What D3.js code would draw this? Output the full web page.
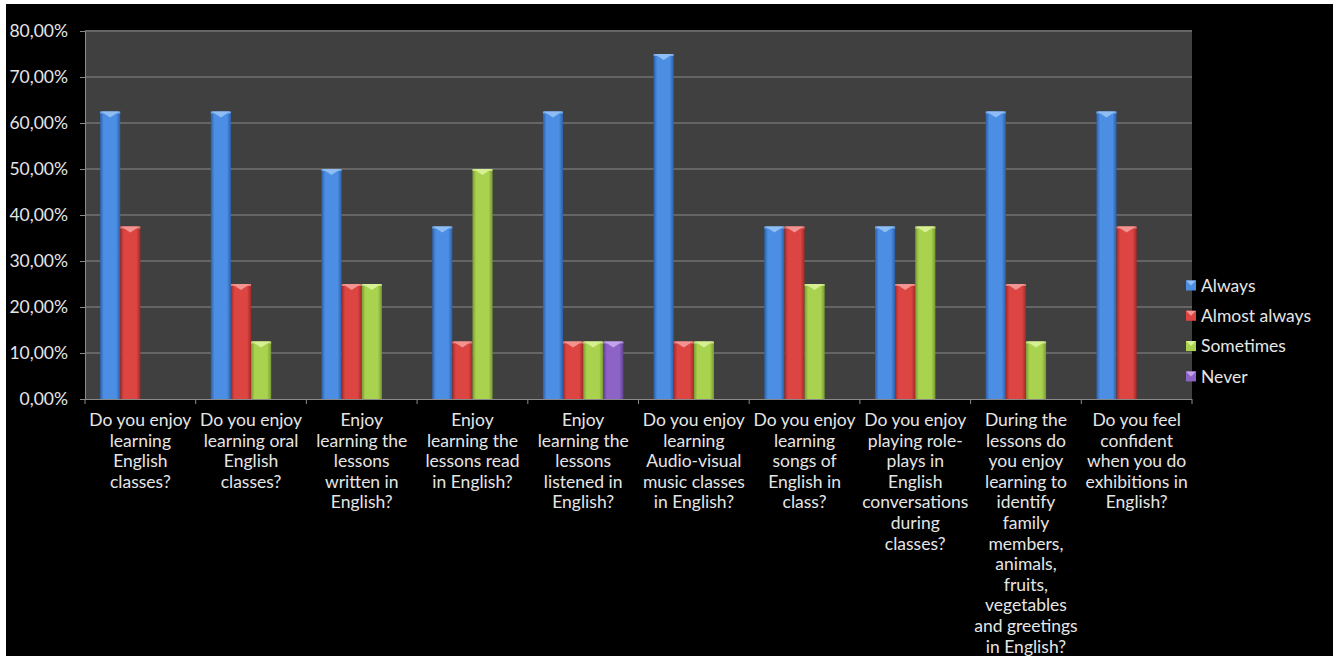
<!DOCTYPE html>
<html>
<head>
<meta charset="utf-8">
<script src="https://cdn.jsdelivr.net/npm/d3@7"></script>
<style>
  html, body { margin: 0; padding: 0; background: #fff; }
  svg { display: block; }
  text { font-family: Lato, 'Noto Sans', sans-serif; fill: #e6e6e6; }
</style>
</head>
<body>
<div id="chart"></div>
<script>
// categories (tick labels, already broken into lines like the original)
const categorias = [
  ['Do you enjoy', 'learning', 'English', 'classes?'],
  ['Do you enjoy', 'learning oral', 'English', 'classes?'],
  ['Enjoy', 'learning the', 'lessons', 'written in', 'English?'],
  ['Enjoy', 'learning the', 'lessons read', 'in English?'],
  ['Enjoy', 'learning the', 'lessons', 'listened in', 'English?'],
  ['Do you enjoy', 'learning', 'Audio-visual', 'music classes', 'in English?'],
  ['Do you enjoy', 'learning', 'songs of', 'English in', 'class?'],
  ['Do you enjoy', 'playing role-', 'plays in', 'English', 'conversations', 'during', 'classes?'],
  ['During the', 'lessons do', 'you enjoy', 'learning to', 'identify', 'family', 'members,', 'animals,', 'fruits,', 'vegetables', 'and greetings', 'in English?'],
  ['Do you feel', 'confident', 'when you do', 'exhibitions in', 'English?']
]

const series = ['Always', 'Almost always', 'Sometimes', 'Never']

// values in percent
const always       = [62.5, 62.5, 50, 37.5, 62.5, 75, 37.5, 37.5, 62.5, 62.5]
const almostAlways = [37.5, 25, 25, 12.5, 12.5, 12.5, 37.5, 25, 25, 37.5]
const sometimes    = [0, 12.5, 25, 50, 12.5, 12.5, 25, 37.5, 12.5, 0]
const never        = [0, 0, 0, 0, 12.5, 0, 0, 0, 0, 0]

const yTicks = [0, 10, 20, 30, 40, 50, 60, 70, 80]

const colores = [
  { edge: '#2c5fa6', mid: '#4b8ee3', top: '#8fbdf5' },
  { edge: '#a02a28', mid: '#dc4542', top: '#f29592' },
  { edge: '#779a33', mid: '#a9d24e', top: '#d6f093' },
  { edge: '#5f418f', mid: '#8d63c6', top: '#c3a4ec' }
]

const width = 1338
const height = 656
const plot = { left: 85, right: 1192, top: 31, bottom: 399 }
const fontSize = '17.5px'

const svg = d3.select('#chart')
  .append('svg')
  .attr('width', width)
  .attr('height', height)

// black chart area with thin white border like the screenshot
svg.append('rect')
  .attr('x', 6).attr('y', 4)
  .attr('width', 1327).attr('height', height - 4)
  .attr('fill', '#000')

const defs = svg.append('defs')
colores.forEach((c, i) => {
  const g = defs.append('linearGradient')
    .attr('id', 'grad' + i)
    .attr('x1', '0%').attr('x2', '100%')
    .attr('y1', '0%').attr('y2', '0%')
  g.append('stop').attr('offset', '0%').attr('stop-color', c.edge)
  g.append('stop').attr('offset', '18%').attr('stop-color', c.mid)
  g.append('stop').attr('offset', '80%').attr('stop-color', c.mid)
  g.append('stop').attr('offset', '100%').attr('stop-color', c.edge)
})

// plot background
svg.append('rect')
  .attr('x', plot.left).attr('y', plot.top - 1)
  .attr('width', plot.right - plot.left)
  .attr('height', plot.bottom - plot.top + 1)
  .attr('fill', '#404040')

const x0 = d3.scaleBand()
  .domain(d3.range(categorias.length))
  .range([plot.left, plot.right])
  .paddingInner(0)
  .paddingOuter(0)

// gap width 150% -> 0.75 bar on each side of the group
const x1 = d3.scaleBand()
  .domain(d3.range(series.length))
  .range([0, x0.bandwidth()])
  .paddingOuter(0.75)
  .paddingInner(0)

const y = d3.scaleLinear()
  .domain([0, 80])
  .range([plot.bottom, plot.top])

// gridlines
svg.append('g')
  .selectAll('line')
  .data(yTicks.filter(t => t > 0))
  .join('line')
  .attr('x1', plot.left).attr('x2', plot.right)
  .attr('y1', d => y(d)).attr('y2', d => y(d))
  .attr('stroke', '#8a8a8a')
  .attr('stroke-width', 1)

// y axis
const yAxis = d3.axisLeft(y)
  .tickValues(yTicks)
  .tickSize(5)
  .tickFormat(d => d.toFixed(2).replace('.', ',') + '%')

const gy = svg.append('g')
  .attr('transform', `translate(${plot.left},0)`)
  .call(yAxis)
gy.select('.domain').attr('stroke', '#8a8a8a')
gy.selectAll('.tick line').attr('stroke', '#8a8a8a')
gy.selectAll('.tick text')
  .attr('x', -17)
  .attr('fill', '#e6e6e6')
  .style('font-size', fontSize)
  .style('font-family', 'Lato, sans-serif')

// x axis line + ticks at category boundaries
svg.append('line')
  .attr('x1', plot.left).attr('x2', plot.right)
  .attr('y1', plot.bottom + 0.5).attr('y2', plot.bottom + 0.5)
  .attr('stroke', '#8a8a8a')

svg.append('g')
  .selectAll('line')
  .data(d3.range(categorias.length + 1))
  .join('line')
  .attr('x1', d => d < categorias.length ? x0(d) : plot.right)
  .attr('x2', d => d < categorias.length ? x0(d) : plot.right)
  .attr('y1', plot.bottom)
  .attr('y2', plot.bottom + 5)
  .attr('stroke', '#8a8a8a')

// category labels
const etiquetas = svg.append('g')
  .selectAll('text')
  .data(categorias)
  .join('text')
  .attr('text-anchor', 'middle')
  .style('font-size', fontSize)
  .attr('transform', (d, i) => `translate(${x0(i) + x0.bandwidth() / 2}, 426)`)

etiquetas.selectAll('tspan')
  .data(d => d)
  .join('tspan')
  .attr('x', 0)
  .attr('y', (d, i) => i * 20.6)
  .text(d => d)

// bars
const valores = [always, almostAlways, sometimes, never]
const barData = []
categorias.forEach((c, i) => {
  valores.forEach((serie, s) => {
    barData.push({ cat: i, serie: s, valor: serie[i] })
  })
})

const barras = svg.append('g')
  .selectAll('g')
  .data(barData.filter(d => d.valor > 0))
  .join('g')
  .attr('transform', d => `translate(${x0(d.cat) + x1(d.serie)},0)`)

barras.append('rect')
  .attr('x', 0)
  .attr('y', d => y(d.valor))
  .attr('width', x1.bandwidth())
  .attr('height', d => plot.bottom - y(d.valor))
  .attr('fill', d => `url(#grad${d.serie})`)

// bevel highlight at top of each bar
barras.append('path')
  .attr('d', d => {
    const w = x1.bandwidth()
    const t = y(d.valor)
    return `M1,${t} L${w - 1},${t} L${w / 2},${t + 6} Z`
  })
  .attr('fill', d => colores[d.serie].top)

barras.append('rect')
  .attr('x', 0)
  .attr('y', d => y(d.valor))
  .attr('width', x1.bandwidth())
  .attr('height', 2)
  .attr('fill', d => colores[d.serie].top)
  .attr('opacity', 0.7)

// legend
const leyenda = svg.append('g')
  .selectAll('g')
  .data(series)
  .join('g')
  .attr('transform', (d, i) => `translate(1186, ${285.5 + i * 30.3})`)

leyenda.append('rect')
  .attr('x', 0).attr('y', -5)
  .attr('width', 10).attr('height', 10)
  .attr('fill', (d, i) => colores[i].mid)

leyenda.append('path')
  .attr('d', 'M0,-5 L10,-5 L5,0 Z')
  .attr('fill', (d, i) => colores[i].top)

leyenda.append('text')
  .attr('x', 15)
  .attr('dy', '0.35em')
  .style('font-size', fontSize)
  .text(d => d)
</script>
</body>
</html>
